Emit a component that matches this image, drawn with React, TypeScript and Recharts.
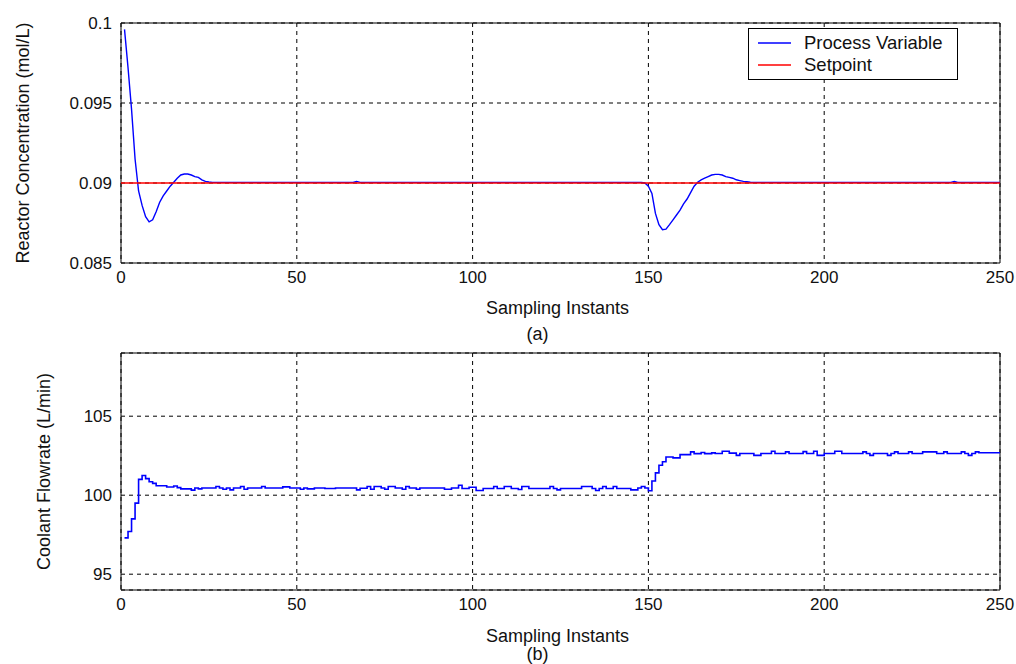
import React from "react";
import {
  LineChart,
  Line,
  XAxis,
  YAxis,
  CartesianGrid,
  ReferenceArea,
  Legend,
  Label,
} from "recharts";

const FONT = '"Liberation Sans", Arial, Helvetica, sans-serif';
const TEXT = "#111";

// shared x axis ticks (sampling instants)
const xTicks = [0, 50, 100, 150, 200, 250];

// (a) reactor concentration
const concTicks = [0.085, 0.09, 0.095, 0.1];
const pvX = [
  1, 2, 3, 4, 5, 6, 7, 8, 9, 10, 11, 12, 13, 14, 15, 16, 17, 18, 19, 20, 21, 22, 23, 24, 25, 26,
  66, 67, 68, 148,
  149, 150, 151, 152, 153, 154, 155, 156, 157, 158, 159, 160, 161, 162, 163, 164,
  165, 166, 167, 168, 169, 170, 171, 172, 173, 174, 175, 176, 177, 178, 179, 180,
  236, 237, 238, 250,
];
const pvY = [
  0.0996, 0.0972, 0.0946, 0.0915, 0.0895, 0.0886, 0.0879, 0.08757, 0.0877, 0.0882,
  0.0888, 0.0892, 0.0895, 0.0898, 0.09005, 0.0903, 0.0905, 0.09056, 0.09056, 0.0905,
  0.0904, 0.09035, 0.0902, 0.0901, 0.09006, 0.09004,
  0.09004, 0.0901, 0.09004, 0.09004,
  0.09, 0.0898, 0.08935, 0.0881, 0.0874, 0.08708, 0.08712, 0.0874, 0.0877, 0.088,
  0.0883, 0.0887, 0.089, 0.0894, 0.0898, 0.09005,
  0.0902, 0.0903, 0.0904, 0.0905, 0.09054, 0.09054, 0.0905, 0.0904, 0.09035, 0.0903,
  0.0902, 0.09015, 0.0901, 0.09008, 0.09005, 0.09004,
  0.09004, 0.0901, 0.09004, 0.09004,
];
const spX = [0, 250];
const spY = [0.09, 0.09];

// (b) coolant flowrate, change points of the stair signal
const flowTicks = [95, 100, 105];
const flowX = [
  1, 2, 3, 4, 5, 6, 7, 8, 9, 10,
  13, 15, 16, 17, 20, 21, 22, 23, 27, 28,
  29, 30, 31, 32, 34, 35, 36, 40, 41, 46,
  48, 51, 52, 53, 55, 58, 61, 67, 68, 70,
  71, 72, 74, 75, 76, 78, 80, 81, 82, 84,
  85, 92, 94, 96, 97, 99, 101, 103, 106, 107,
  109, 111, 113, 114, 116, 122, 123, 124, 125, 131,
  134, 135, 136, 137, 138, 140, 141, 145, 147, 148,
  149, 150, 151, 152, 153, 154, 155, 157, 159, 162,
  163, 165, 166, 168, 169, 171, 173, 175, 176, 180,
  182, 185, 186, 189, 190, 194, 195, 197, 198, 200,
  203, 205, 211, 212, 213, 214, 218, 219, 220, 221,
  224, 225, 228, 232, 234, 235, 239, 240, 241, 242,
  243, 244, 250,
];
const flowY = [
  97.3, 97.7, 98.5, 99.5, 101.0, 101.25, 101.05, 100.85, 100.75, 100.6,
  100.52, 100.58, 100.48, 100.4, 100.32, 100.46, 100.4, 100.46, 100.55, 100.46,
  100.38, 100.46, 100.34, 100.46, 100.55, 100.38, 100.46, 100.55, 100.46, 100.53,
  100.46, 100.38, 100.46, 100.4, 100.46, 100.42, 100.46, 100.34, 100.44, 100.55,
  100.38, 100.55, 100.46, 100.38, 100.55, 100.46, 100.38, 100.55, 100.46, 100.38,
  100.46, 100.38, 100.46, 100.63, 100.42, 100.5, 100.3, 100.42, 100.55, 100.42,
  100.55, 100.42, 100.36, 100.55, 100.42, 100.55, 100.42, 100.34, 100.42, 100.55,
  100.42, 100.3, 100.42, 100.55, 100.42, 100.55, 100.42, 100.34, 100.46, 100.55,
  100.46, 100.28, 100.9, 101.41, 101.9, 102.12, 102.42, 102.36, 102.57, 102.74,
  102.63, 102.7, 102.63, 102.68, 102.64, 102.78, 102.66, 102.52, 102.64, 102.52,
  102.64, 102.78, 102.64, 102.74, 102.64, 102.76, 102.64, 102.78, 102.52, 102.64,
  102.78, 102.64, 102.74, 102.64, 102.52, 102.64, 102.52, 102.64, 102.74, 102.64,
  102.74, 102.64, 102.74, 102.64, 102.74, 102.64, 102.74, 102.64, 102.52, 102.64,
  102.74, 102.69, 102.69,
];

const toPoints = (xs: number[], ys: number[]) => xs.map((x, i) => ({ x, y: ys[i] }));

const pvData = toPoints(pvX, pvY);
const spData = toPoints(spX, spY);
const flowData = toPoints(flowX, flowY);

const tickStyle = { fill: TEXT, fontSize: 17, fontFamily: FONT };
const labelStyle = { fill: TEXT, fontSize: 18, fontFamily: FONT };

const legendRows = [
  { name: "Process Variable", color: "#0000ff", top: 3 },
  { name: "Setpoint", color: "#ff0000", top: 25 },
];

const LegendBox = () => (
  <div
    style={{
      width: 208,
      height: 50,
      border: "1px solid #000",
      background: "#fff",
      fontFamily: FONT,
      fontSize: 18.5,
      color: TEXT,
      position: "relative",
    }}
  >
    {legendRows.map((row) => (
      <div
        key={row.name}
        style={{ position: "absolute", left: 9, top: row.top, height: 22, display: "flex", alignItems: "center" }}
      >
        <svg width={33} height={4} style={{ display: "block" }}>
          <line x1={0} y1={2} x2={33} y2={2} stroke={row.color} strokeWidth={1.5} />
        </svg>
        <span style={{ marginLeft: 13, lineHeight: "22px", whiteSpace: "nowrap" }}>{row.name}</span>
      </div>
    ))}
  </div>
);

export default function App() {
  return (
    <div
      style={{
        position: "absolute",
        left: 0,
        top: 0,
        width: 1016,
        height: 664,
        background: "#fff",
        overflow: "hidden",
      }}
    >
      {/* (a) reactor concentration */}
      <div style={{ position: "absolute", left: 0, top: 0 }}>
        <LineChart width={1016} height={345} margin={{ top: 23, right: 16, bottom: 0, left: 0 }}>
          <CartesianGrid stroke="#000" strokeDasharray="4 4" />
          <XAxis
            dataKey="x"
            type="number"
            domain={[0, 250]}
            ticks={xTicks}
            interval={0}
            height={82}
            tickLine={false}
            axisLine={false}
            tickMargin={2}
            tick={tickStyle}
            allowDataOverflow
          >
            <Label value="Sampling Instants" position="insideTop" offset={38} dx={-3} style={labelStyle} />
            <Label value="(a)" position="insideTop" offset={64} dx={-23} style={labelStyle} />
          </XAxis>
          <YAxis
            type="number"
            domain={[0.085, 0.1]}
            ticks={concTicks}
            interval={0}
            width={121}
            tickLine={false}
            axisLine={false}
            tickMargin={3}
            tick={tickStyle}
            allowDataOverflow
          >
            <Label
              value="Reactor Concentration (mol/L)"
              angle={-90}
              position="insideLeft"
              offset={23}
              style={{ ...labelStyle, textAnchor: "middle" }}
            />
          </YAxis>
          <ReferenceArea x1={0} x2={250} y1={0.085} y2={0.1} fill="none" stroke="#000" strokeWidth={1} ifOverflow="visible" />
          <Legend
            verticalAlign="middle"
            align="center"
            content={<LegendBox />}
            wrapperStyle={{ left: 748, top: 28, width: 210, height: 52 }}
          />
          <Line
            data={pvData}
            dataKey="y"
            name="Process Variable"
            type="linear"
            stroke="#0000ff"
            strokeWidth={1.4}
            dot={false}
            isAnimationActive={false}
          />
          <Line
            data={spData}
            dataKey="y"
            name="Setpoint"
            type="linear"
            stroke="#ff0000"
            strokeWidth={1.3}
            dot={false}
            isAnimationActive={false}
          />
        </LineChart>
      </div>

      {/* (b) coolant flowrate */}
      <div style={{ position: "absolute", left: 0, top: 345 }}>
        <LineChart width={1016} height={319} margin={{ top: 8, right: 16, bottom: 0, left: 0 }}>
          <CartesianGrid stroke="#000" strokeDasharray="4 4" />
          <XAxis
            dataKey="x"
            type="number"
            domain={[0, 250]}
            ticks={xTicks}
            interval={0}
            height={74}
            tickLine={false}
            axisLine={false}
            tickMargin={2}
            tick={tickStyle}
            allowDataOverflow
          >
            <Label value="Sampling Instants" position="insideTop" offset={39} dx={-3} style={labelStyle} />
            <Label value="(b)" position="insideTop" offset={57} dx={-23} style={labelStyle} />
          </XAxis>
          <YAxis
            type="number"
            domain={[94, 109]}
            ticks={flowTicks}
            interval={0}
            width={121}
            tickLine={false}
            axisLine={false}
            tickMargin={3}
            tick={tickStyle}
            allowDataOverflow
          >
            <Label
              value="Coolant Flowrate (L/min)"
              angle={-90}
              position="insideLeft"
              offset={44}
              style={{ ...labelStyle, textAnchor: "middle" }}
            />
          </YAxis>
          <ReferenceArea x1={0} x2={250} y1={94} y2={109} fill="none" stroke="#000" strokeWidth={1} ifOverflow="visible" />
          <Line
            data={flowData}
            dataKey="y"
            type="stepAfter"
            stroke="#0000ff"
            strokeWidth={1.6}
            dot={false}
            isAnimationActive={false}
          />
        </LineChart>
      </div>
    </div>
  );
}
